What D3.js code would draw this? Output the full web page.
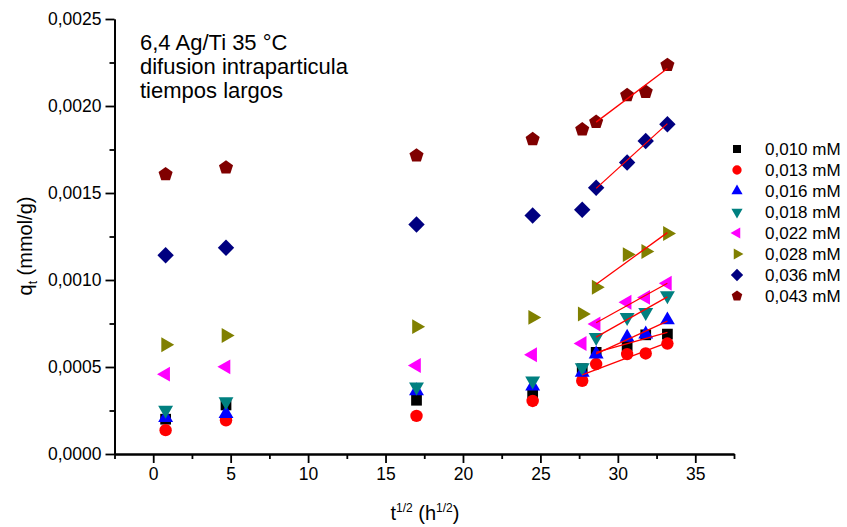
<!DOCTYPE html>
<html><head><meta charset="utf-8">
<script src="https://cdn.jsdelivr.net/npm/d3@7"></script>
<style>
body{margin:0;background:#fff}
text{font-family:Arial,"Liberation Sans",sans-serif;fill:#000}
</style></head>
<body><svg id="c" width="847" height="527"></svg>
<script>
// ---- data ----
const xValues = [0.8, 4.7, 17.0, 24.5, 27.7, 28.6, 30.6, 31.8, 33.2];
const seriesNames = ["0,010 mM","0,013 mM","0,016 mM","0,018 mM","0,022 mM","0,028 mM","0,036 mM","0,043 mM"];
const q010 = [0.000200,0.000282,0.000309,0.000351,0.000490,0.000584,0.000622,0.000685,0.000689];
const q013 = [0.000137,0.000194,0.000219,0.000305,0.000421,0.000517,0.000574,0.000578,0.000635];
const q016 = [0.000209,0.000232,0.000363,0.000390,0.000468,0.000574,0.000670,0.000689,0.000770];
const q018 = [0.000252,0.000301,0.000386,0.000420,0.000497,0.000670,0.000785,0.000814,0.000910];
const q022 = [0.000459,0.000501,0.000509,0.000570,0.000635,0.000747,0.000872,0.000900,0.000981];
const q028 = [0.000628,0.000681,0.000732,0.000785,0.000805,0.000958,0.001146,0.001164,0.001267];
const q036 = [0.001142,0.001185,0.001319,0.001371,0.001404,0.001530,0.001675,0.001799,0.001895];
const q043 = [0.001607,0.001646,0.001715,0.001809,0.001865,0.001908,0.002062,0.002081,0.002235];
const fitStart = [5,4,5,5,5,5,5,5];
const colors = ["#000000","#ff0000","#0000ff","#008080","#ff00ff","#808000","#000080","#800000"];
const shapes = ["square","circle","up","down","left","right","diamond","pentagon"];
const xMajor = [0,5,10,15,20,25,30,35];
const yMajor = [0,0.0005,0.0010,0.0015,0.0020,0.0025];
const titleLines = ["6,4 Ag/Ti 35 °C","difusion intraparticula","tiempos largos"];
const allSeries = [q010,q013,q016,q018,q022,q028,q036,q043];

// ---- chart ----
const svg = d3.select("#c");
const x = d3.scaleLinear().domain([-2.5,37.5]).range([114.5,734]);
const y = d3.scaleLinear().domain([0,0.0025]).range([454,19]);

function poly(n, r, rot){
  const pts = d3.range(n).map(i=>{const a=rot+i*2*Math.PI/n;return [r*Math.sin(a),-r*Math.cos(a)];});
  return "M"+pts.map(p=>p[0].toFixed(2)+","+p[1].toFixed(2)).join("L")+"Z";
}
function shapePath(s, k){
  k = k||1;
  switch(s){
    case "square": return poly(4,7.6*k,Math.PI/4);
    case "circle": {const r=6.2*k;return `M${r},0A${r},${r} 0 1 1 ${-r},0A${r},${r} 0 1 1 ${r},0Z`;}
    case "up": return poly(3,8.6*k,0);
    case "down": return poly(3,8.6*k,Math.PI);
    case "left": return poly(3,8.6*k,-Math.PI/2);
    case "right": return poly(3,8.6*k,Math.PI/2);
    case "diamond": return poly(4,8.2*k,0);
    case "pentagon": return poly(5,7.4*k,0);
  }
}

// axes
const fmtY = d => d.toFixed(4).replace(".",",");
const xMinor = d3.range(-2.5,38,2.5).filter(v=>!xMajor.includes(v));
const yMinor = d3.range(0.00025,0.0025,0.0005);

svg.append("g").attr("transform",`translate(0,${y(0)})`)
  .call(d3.axisBottom(x).tickValues(xMajor).tickSize(9).tickSizeOuter(0).tickPadding(5).tickFormat(d3.format("d")));
svg.append("g").attr("transform",`translate(0,${y(0)})`)
  .call(d3.axisBottom(x).tickValues(xMinor).tickSize(5).tickSizeOuter(0).tickFormat(""));
svg.append("g").attr("transform",`translate(${x(-2.5)},0)`)
  .call(d3.axisLeft(y).tickValues(yMajor).tickSize(9).tickSizeOuter(0).tickPadding(4).tickFormat(fmtY));
svg.append("g").attr("transform",`translate(${x(-2.5)},0)`)
  .call(d3.axisLeft(y).tickValues(yMinor).tickSize(5).tickSizeOuter(0).tickFormat(""));
svg.selectAll(".domain").attr("stroke","#000").attr("stroke-width",1.8);
svg.selectAll(".tick line").attr("stroke","#000").attr("stroke-width",1.8);
svg.selectAll(".tick text").style("font-size","17.5px").style("font-family","Arial,'Liberation Sans',sans-serif").attr("fill","#000");

// axis titles
const xt = svg.append("text").attr("x",425).attr("y",520).attr("text-anchor","middle").style("font-size","20px");
xt.append("tspan").text("t");
xt.append("tspan").attr("dy",-8).style("font-size","12px").text("1/2");
xt.append("tspan").attr("dy",8).text(" (h");
xt.append("tspan").attr("dy",-8).style("font-size","12px").text("1/2");
xt.append("tspan").attr("dy",8).text(")");

const yt = svg.append("text").attr("transform","translate(32,246) rotate(-90)").attr("text-anchor","middle").style("font-size","20px");
yt.append("tspan").text("q");
yt.append("tspan").attr("dy",5).style("font-size","12px").text("t");
yt.append("tspan").attr("dy",-5).text(" (mmol/g)");

// title text
svg.append("g").selectAll("text").data(titleLines).join("text")
  .attr("x",140).attr("y",(d,i)=>49.5+i*24).style("font-size","22px").text(d=>d);

// markers
allSeries.forEach((vals,si)=>{
  svg.append("g").selectAll("path").data(vals).join("path")
    .attr("transform",(d,i)=>`translate(${x(xValues[i])},${y(d)})`)
    .attr("d",shapePath(shapes[si]))
    .attr("fill",colors[si]);
});

// linear fits
allSeries.forEach((vals,si)=>{
  const xs = xValues.slice(fitStart[si]), ys = vals.slice(fitStart[si]);
  const mx = d3.mean(xs), my = d3.mean(ys);
  const sxy = d3.sum(xs.map((v,i)=>(v-mx)*(ys[i]-my)));
  const sxx = d3.sum(xs.map(v=>(v-mx)*(v-mx)));
  const b = sxy/sxx, a = my-b*mx;
  const ends = [xs[0], xs[xs.length-1]];
  svg.append("line")
    .attr("x1",x(ends[0])).attr("y1",y(a+b*ends[0]))
    .attr("x2",x(ends[1])).attr("y2",y(a+b*ends[1]))
    .attr("stroke","#ff0000").attr("stroke-width",1.3);
});

// legend
const lg = svg.append("g");
seriesNames.forEach((nm,i)=>{
  const cy = 149 + i*21;
  lg.append("path").attr("transform",`translate(737,${cy})`).attr("d",shapePath(shapes[i],0.75)).attr("fill",colors[i]);
  lg.append("text").attr("x",765).attr("y",cy+5.5).style("font-size","17px").text(nm);
});
</script></body></html>
